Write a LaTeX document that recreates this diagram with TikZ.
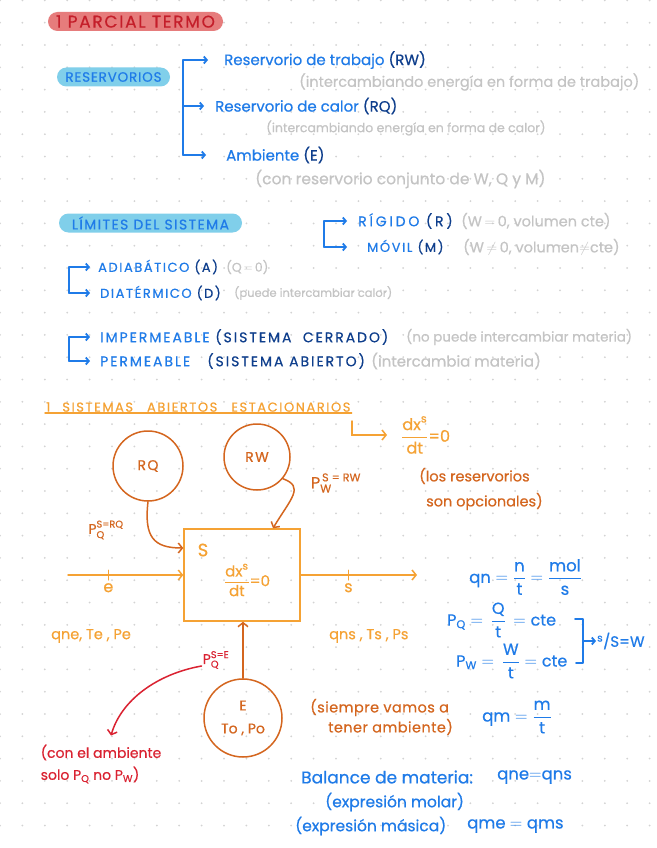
\documentclass[tikz,border=0pt]{standalone}
\usepackage{amsmath}
\usepackage{fontspec}
\setmainfont{Poppins}[FakeBold=0.5]
\usetikzlibrary{arrows.meta,positioning,calc}
\definecolor{inkblue}{HTML}{1F7BE8}
\definecolor{deepblue}{HTML}{0E3E8C}
\definecolor{pencil}{HTML}{C4C4C4}
\definecolor{pillcyan}{HTML}{80CFEA}
\definecolor{pillred}{HTML}{E67C7C}
\definecolor{inkred}{HTML}{C41E2A}
\definecolor{sun}{HTML}{F5A234}
\definecolor{rust}{HTML}{D4661F}
\definecolor{crimson}{HTML}{DA2231}
\definecolor{dotgray}{HTML}{D3D3D3}
\newcommand{\fsz}[2]{\fontsize{#1}{#2}\selectfont}
\newcommand{\wide}[1]{\addfontfeature{LetterSpace=#1}}

\begin{document}
\begin{tikzpicture}[x=1pt,y=-1pt,every node/.style={inner sep=1pt},
pill/.style={rounded corners=9.5pt,minimum height=19pt,inner sep=0pt},
item/.style={anchor=west,text=inkblue,font=\fsz{15}{17}},
capsitem/.style={anchor=west,text=inkblue,font=\fsz{13}{15}\wide{12}},
note/.style={anchor=west,text=pencil,font=\fsz{14}{16}},
bline/.style={draw=inkblue,line width=1.8pt,line cap=round,line join=round},
barr/.style={bline,-{Straight Barb[length=3pt,width=7pt]}},
res/.style={circle,draw=rust,line width=1.5pt,text=rust,font=\fsz{14}{23}\wide{10},align=center},
oline/.style={draw=sun,line width=1.5pt,line cap=round},
oarr/.style={oline,-{Straight Barb[length=4pt,width=10pt]}},
rarr/.style={draw=rust,line width=1.5pt,line cap=round,-{Straight Barb[length=4pt,width=10pt]}},
olabel/.style={text=sun,font=\fsz{14.5}{17}},
rlabel/.style={text=rust,font=\fsz{14}{16}},
formula/.style={anchor=west,text=inkblue,font=\fsz{16.5}{18}}]
% page and dots
\fill[white] (0,0) rectangle (656,848);
\useasboundingbox (0,0) rectangle (656,848);
\foreach \i in {0,...,29}
  \foreach \j in {0,...,37}
    \fill[dotgray] (\i*22.4,0.4+\j*22.3) circle (1pt);

% heading and reservorios
\node[pill,fill=pillred,text=inkred,minimum width=175pt,font=\fsz{17}{19}\wide{10}] (title) at (135.5,21.5) {1 PARCIAL TERMO};
\node[pill,fill=pillcyan,text=inkblue,minimum width=113pt,font=\fsz{13.5}{15}\wide{6}] (reserv) at (113.5,77) {RESERVORIOS};
\coordinate (r1) at (183,60);
\coordinate (r2) at (183,106);
\coordinate (r3) at (183,155);
\node[item] (trab) at (223,60) {Reservorio de trabajo \textcolor{deepblue}{(RW)}};
\node[item] (calor) at (214,106) {Reservorio de calor \textcolor{deepblue}{(RQ)}};
\node[item] (amb) at (225,155) {Ambiente \textcolor{deepblue}{(E)}};
\draw[bline] (r1) -- (r3);
\draw[barr,shorten >=15pt] (r1) -- (trab);
\draw[barr,shorten >=10pt] (r2) -- (calor);
\draw[barr,shorten >=19pt] (r3) -- (amb);
\node[note,font=\fsz{14.5}{16}] (ntrab) at (298,82) {(intercambiando energía en forma de trabajo)};
\node[note,font=\fsz{12.5}{16}] (ncalor) at (265,128) {(intercambiando energía en forma de calor)};
\node[note,font=\fsz{15.5}{17}] (namb) at (254,179) {(con reservorio conjunto de W, Q y M)};

% limites del sistema
\node[pill,fill=pillcyan,text=inkblue,minimum width=183pt,font=\fsz{14}{15}\wide{10}] (lim) at (150.5,223) {LÍMITES DEL SISTEMA};
\coordinate (l1) at (324,221);
\coordinate (l2) at (324,247);
\node[capsitem,font=\fsz{14}{15}\wide{20}] (rig) at (357,221) {RÍGIDO \textcolor{deepblue}{(R)}};
\node[capsitem] (mov) at (366,247) {MÓVIL \textcolor{deepblue}{(M)}};
\draw[bline] (l1) -- (l2);
\draw[barr,shorten >=10pt] (l1) -- (rig);
\draw[barr,shorten >=19pt] (l2) -- (mov);
\node[note,font=\fsz{14.5}{16}] (nrig) at (460,221) {(W$\,=\,$0, volumen cte)};
\node[note,font=\fsz{14.5}{16}] (nmov) at (462,247) {(W$\,\neq\,$0, volumen$\neq$cte)};

\coordinate (a1) at (69,267);
\coordinate (a2) at (69,293);
\node[capsitem] (adia) at (97,267) {ADIABÁTICO \textcolor{deepblue}{(A)}};
\node[capsitem] (diat) at (99,293) {DIATÉRMICO \textcolor{deepblue}{(D)}};
\draw[bline] (a1) -- (a2);
\draw[barr,shorten >=7pt] (a1) -- (adia);
\draw[barr,shorten >=9pt] (a2) -- (diat);
\node[note,font=\fsz{12.5}{16}] (nadia) at (225,267) {(Q$\,=\,$0)};
\node[note,font=\fsz{11.5}{14}] (ndiat) at (233,293) {(puede intercambiar calor)};

\coordinate (p1) at (69,337);
\coordinate (p2) at (69,361);
\node[capsitem,font=\fsz{14}{15}\wide{14}] (imp) at (99,337) {IMPERMEABLE \textcolor{deepblue}{(SISTEMA\ \ CERRADO)}};
\node[capsitem,font=\fsz{14}{15}\wide{14}] (perm) at (99,361) {PERMEABLE\ \ \ \textcolor{deepblue}{(SISTEMA ABIERTO)}};
\draw[bline] (p1) -- (p2);
\draw[barr,shorten >=9pt] (p1) -- (imp);
\draw[barr,shorten >=9pt] (p2) -- (perm);
\node[note,font=\fsz{13.5}{16}] (nimp) at (405,337) {(no puede intercambiar materia)};
\node[note,font=\fsz{15}{16}] (nperm) at (370,361) {(intercambia materia)};

% sistemas abiertos estacionarios
\node[anchor=west,text=sun,font=\fsz{13}{14}\wide{12}] (sect) at (45,407) {1\hspace{12pt}SISTEMAS\hspace{14pt}ABIERTOS\hspace{14pt}ESTACIONARIOS};
\draw[oline] (sect.south west) -- (sect.south east);
\coordinate (hook) at (352,421);
\node[anchor=west,text=sun,font=\fsz{16}{18}] (steady) at (400,435) {$\dfrac{\text{dx}^{\text{s}}}{\text{dt}}\text{=0}$};
\draw[oarr,shorten >=13pt] (hook) |- (steady);

\node[res,minimum size=70pt] (rq) at (148,466) {RQ};
\node[res,minimum size=66pt] (rw) at (257,457) {RW};
\node[draw=sun,line width=1.5pt,minimum width=116pt,minimum height=92pt,text=sun,font=\fsz{15}{17},text depth=0pt] (sys) at (242,575) {\hspace*{10pt}$\dfrac{\text{dx}^{\text{s}}}{\text{dt}}\text{=0}$};
\node[text=sun,font=\fsz{18}{18}] (sname) at (203,550) {S};
\draw[rarr] (rq.south) .. controls +(-4,35) and +(-30,0) .. ([yshift=27pt]sys.west);
\draw[rarr] (rw.-40) .. controls +(22,8) and +(18,-30) .. ([xshift=31pt]sys.north);
\node[rlabel] (pq) at (106,530) {$\text{P}_{\text{Q}}^{\text{S=RQ}}$};
\node[rlabel,font=\fsz{16}{18}] (pw) at (336,483) {$\text{P}_{\text{W}}^{\,\text{S = RW}}$};
\node[anchor=west,text=rust,font=\fsz{14.5}{25},align=left] (opc) at (418,489) {(los reservorios\\\hspace*{7pt}son opcionales)};

\coordinate (inlet) at (68,575);
\coordinate (outlet) at (417,575);
\draw[oarr] (inlet) -- coordinate[pos=0.35] (te) (sys.west);
\draw[oarr] (sys.east) -- coordinate[pos=0.41] (ts) (outlet);
\draw[oline,line width=1pt] ([yshift=5pt]te) -- ([yshift=-5pt]te);
\draw[oline,line width=1pt] ([yshift=5pt]ts) -- ([yshift=-5pt]ts);
\node[olabel,font=\fsz{16}{17},below=7pt of te] (le) {e};
\node[olabel,font=\fsz{16}{17},below=7pt of ts] (ls) {s};
\node[olabel,anchor=west] (inprops) at (50,636) {qne, Te , Pe};
\node[olabel,anchor=west] (outprops) at (328,636) {qns , Ts , Ps};

\node[res,minimum size=78pt,font=\fsz{14}{23}] (env) at (243,718) {E\\To , Po};
\draw[rarr] (env.north) -- (env.north |- sys.south);
\node[text=crimson,font=\fsz{14}{16}] (pqe) at (216,660) {$\text{P}_{\text{Q}}^{\text{S=E}}$};
\node[text=crimson,font=\fsz{14}{22},align=left] (solo) at (101,764) {(con el ambiente\\solo P\textsubscript{Q} no P\textsubscript{W})};
\draw[draw=crimson,line width=1.5pt,line cap=round,-{Straight Barb[length=4pt,width=10pt]}]
  ([yshift=-6pt]pqe.west) .. controls +(-45,8) and +(10,-35) .. ([xshift=10pt,yshift=8pt]solo.north);
\node[anchor=west,text=rust,font=\fsz{14.5}{20}\wide{3},align=left] (siempre) at (309,717) {(siempre vamos a\\\hspace*{18pt}tener ambiente)};

% formulas
\node[formula] (qn) at (468,577) {$\text{qn}=\dfrac{\text{n}}{\text{t}}=\dfrac{\text{mol}}{\text{s}}$};
\node[formula,font=\fsz{16}{18}] (pqf) at (446,620) {$\text{P}_{\text{Q}}=\,\dfrac{\text{Q}}{\text{t}}\,=\text{cte}$};
\node[formula,font=\fsz{16}{18}] (pwf) at (455,661) {$\text{P}_{\text{W}}=\,\dfrac{\text{W}}{\text{t}}=\text{cte}$};
\coordinate (brk) at (583,641);
\draw[bline] (575,619) -| (brk) |- (576,663);
\node[formula,font=\fsz{15}{17}] (sw) at (596,641) {\textsuperscript{s}/S{=}W};
\draw[barr] (brk) -- (sw);
\node[formula] (qm) at (481,717) {$\text{qm}=\dfrac{\text{m}}{\text{t}}$};
\node[formula,font=\fsz{17}{18}] (bal) at (300,777) {Balance de materia:};
\node[formula] (qeq) at (496,777) {qne$=$qns};
\node[formula,font=\fsz{15.5}{17}] (molar) at (324,802) {(expresión molar)};
\node[formula,font=\fsz{15.5}{17}] (masica) at (294,826) {(expresión másica)};
\node[formula] (qmeq) at (466,826) {qme $=$ qms};
\end{tikzpicture}
\end{document}
